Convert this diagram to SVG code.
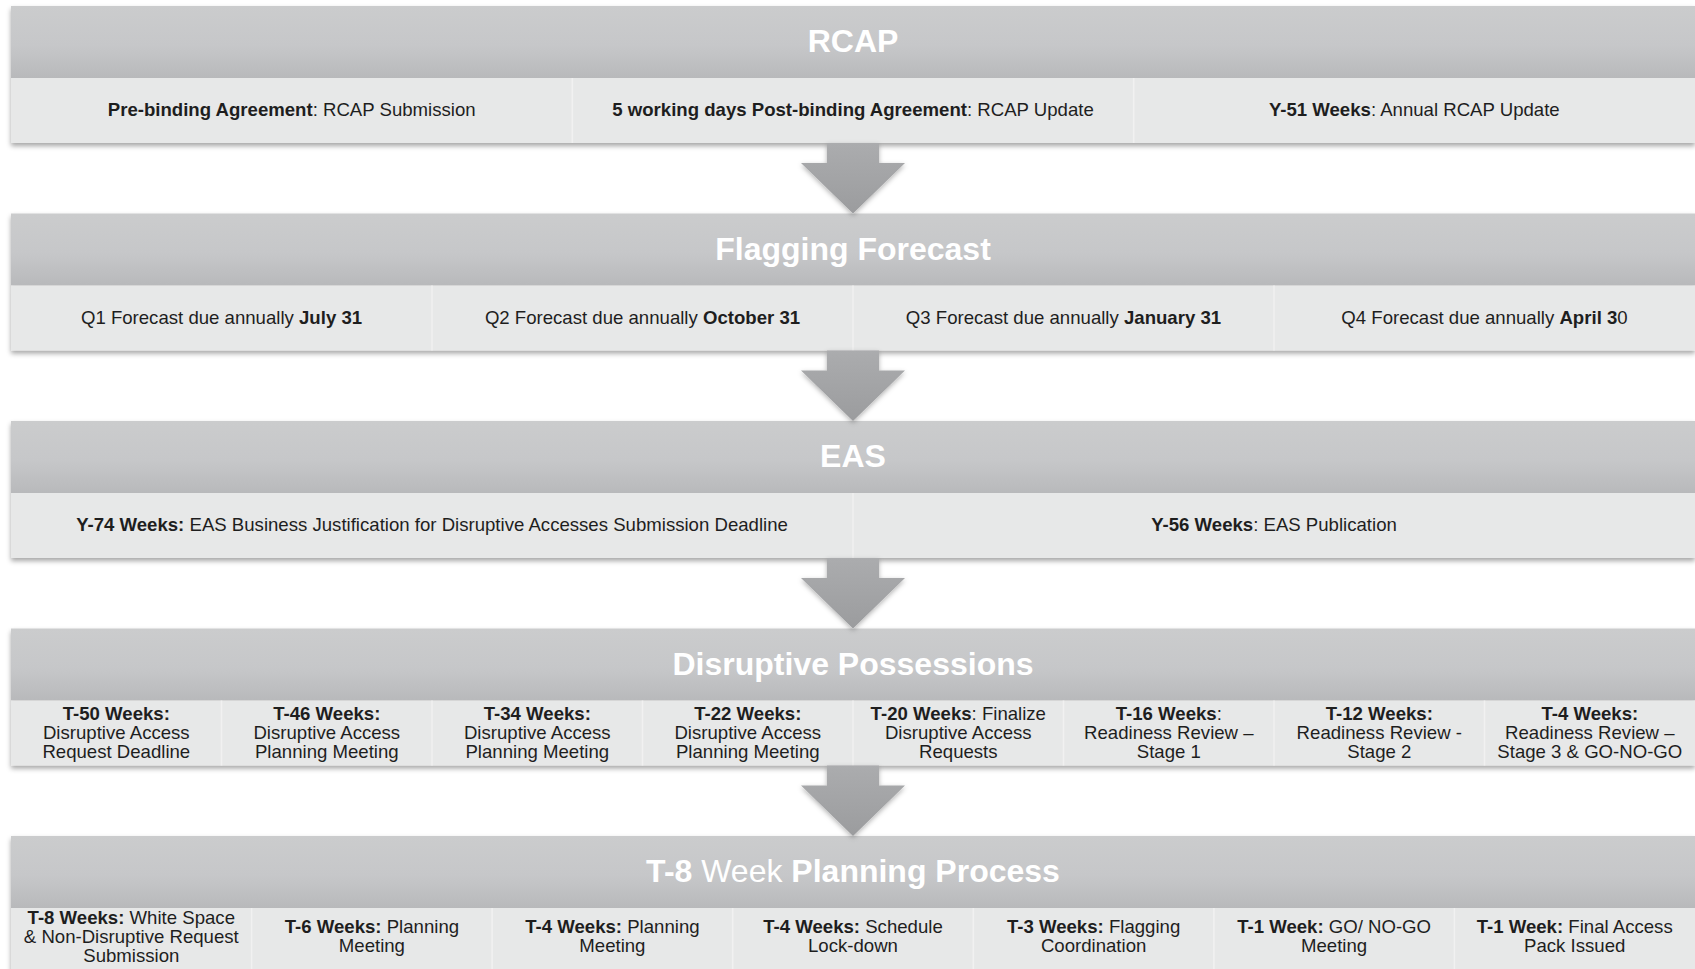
<svg xmlns="http://www.w3.org/2000/svg" width="1695" height="969" viewBox="0 0 1695 969">
<defs>
<linearGradient id="hdr" x1="0" y1="0" x2="0" y2="1">
<stop offset="0" stop-color="#cbcccd"/>
<stop offset="0.55" stop-color="#c6c7c9"/>
<stop offset="1" stop-color="#b8b9bb"/>
</linearGradient>
<linearGradient id="arr" x1="0" y1="0" x2="0" y2="1">
<stop offset="0" stop-color="#abacae"/>
<stop offset="1" stop-color="#9b9c9e"/>
</linearGradient>
<filter id="sh" x="-2%" y="-10%" width="104%" height="130%">
<feDropShadow dx="0" dy="3" stdDeviation="2.5" flood-color="#000" flood-opacity="0.35"/>
</filter>
<filter id="ash" x="-20%" y="-20%" width="140%" height="140%">
<feDropShadow dx="0" dy="2" stdDeviation="2.5" flood-color="#000" flood-opacity="0.3"/>
</filter>
</defs>
<style>
.hdr{fill:url(#hdr);}
.body{fill:#e7e8e8;}
.div{stroke:#f1f1f1;stroke-width:1.5;}
.ttl{font-family:"Liberation Sans",Arial,sans-serif;font-size:32px;font-weight:bold;fill:#ffffff;text-anchor:middle;}
.t{font-family:"Liberation Sans",Arial,sans-serif;font-size:18.6px;fill:#1e1e1e;text-anchor:middle;}
.b{font-weight:bold;}
.n{font-weight:normal;}
.arrow{fill:url(#arr);filter:url(#ash);}
</style>

<g id="rcap">
<g filter="url(#sh)">
<rect class="hdr" x="11" y="6" width="1684" height="72"/>
<rect class="body" x="11" y="78" width="1684" height="65"/>
</g>
<line class="div" x1="572.3" y1="78" x2="572.3" y2="143"/>
<line class="div" x1="1133.7" y1="78" x2="1133.7" y2="143"/>
<text class="ttl" x="853" y="52">RCAP</text>
<text class="t" x="291.7" y="116"><tspan class="b">Pre-binding Agreement</tspan>: RCAP Submission</text>
<text class="t" x="853" y="116"><tspan class="b">5 working days Post-binding Agreement</tspan>: RCAP Update</text>
<text class="t" x="1414.3" y="116"><tspan class="b">Y-51 Weeks</tspan>: Annual RCAP Update</text>
</g>

<g id="flagging">
<g filter="url(#sh)">
<rect class="hdr" x="11" y="213.5" width="1684" height="72"/>
<rect class="body" x="11" y="285.5" width="1684" height="65"/>
</g>
<line class="div" x1="432" y1="285.5" x2="432" y2="350.5"/>
<line class="div" x1="853" y1="285.5" x2="853" y2="350.5"/>
<line class="div" x1="1274" y1="285.5" x2="1274" y2="350.5"/>
<text class="ttl" x="853" y="259.5">Flagging Forecast</text>
<text class="t" x="221.5" y="323.5">Q1 Forecast due annually <tspan class="b">July 31</tspan></text>
<text class="t" x="642.5" y="323.5">Q2 Forecast due annually <tspan class="b">October 31</tspan></text>
<text class="t" x="1063.5" y="323.5">Q3 Forecast due annually <tspan class="b">January 31</tspan></text>
<text class="t" x="1484.5" y="323.5">Q4 Forecast due annually <tspan class="b">April 3</tspan>0</text>
</g>

<g id="eas">
<g filter="url(#sh)">
<rect class="hdr" x="11" y="421" width="1684" height="72"/>
<rect class="body" x="11" y="493" width="1684" height="65"/>
</g>
<line class="div" x1="853" y1="493" x2="853" y2="558"/>
<text class="ttl" x="853" y="467">EAS</text>
<text class="t" x="432" y="531"><tspan class="b">Y-74 Weeks:</tspan> EAS Business Justification for Disruptive Accesses Submission Deadline</text>
<text class="t" x="1274" y="531"><tspan class="b">Y-56 Weeks</tspan>: EAS Publication</text>
</g>

<g id="disruptive">
<g filter="url(#sh)">
<rect class="hdr" x="11" y="628.5" width="1684" height="72"/>
<rect class="body" x="11" y="700.5" width="1684" height="65"/>
</g>
<line class="div" x1="221.5" y1="700.5" x2="221.5" y2="765.5"/>
<line class="div" x1="432" y1="700.5" x2="432" y2="765.5"/>
<line class="div" x1="642.5" y1="700.5" x2="642.5" y2="765.5"/>
<line class="div" x1="853" y1="700.5" x2="853" y2="765.5"/>
<line class="div" x1="1063.5" y1="700.5" x2="1063.5" y2="765.5"/>
<line class="div" x1="1274" y1="700.5" x2="1274" y2="765.5"/>
<line class="div" x1="1484.5" y1="700.5" x2="1484.5" y2="765.5"/>
<text class="ttl" x="853" y="674.5">Disruptive Possessions</text>
<text class="t" x="116.3" y="719.5"><tspan class="b">T-50 Weeks:</tspan><tspan x="116.3" dy="19">Disruptive Access</tspan><tspan x="116.3" dy="19">Request Deadline</tspan></text>
<text class="t" x="326.8" y="719.5"><tspan class="b">T-46 Weeks:</tspan><tspan x="326.8" dy="19">Disruptive Access</tspan><tspan x="326.8" dy="19">Planning Meeting</tspan></text>
<text class="t" x="537.3" y="719.5"><tspan class="b">T-34 Weeks:</tspan><tspan x="537.3" dy="19">Disruptive Access</tspan><tspan x="537.3" dy="19">Planning Meeting</tspan></text>
<text class="t" x="747.8" y="719.5"><tspan class="b">T-22 Weeks:</tspan><tspan x="747.8" dy="19">Disruptive Access</tspan><tspan x="747.8" dy="19">Planning Meeting</tspan></text>
<text class="t" x="958.3" y="719.5"><tspan class="b">T-20 Weeks</tspan>: Finalize<tspan x="958.3" dy="19">Disruptive Access</tspan><tspan x="958.3" dy="19">Requests</tspan></text>
<text class="t" x="1168.8" y="719.5"><tspan class="b">T-16 Weeks</tspan>:<tspan x="1168.8" dy="19">Readiness Review –</tspan><tspan x="1168.8" dy="19">Stage 1</tspan></text>
<text class="t" x="1379.3" y="719.5"><tspan class="b">T-12 Weeks:</tspan><tspan x="1379.3" dy="19">Readiness Review -</tspan><tspan x="1379.3" dy="19">Stage 2</tspan></text>
<text class="t" x="1589.8" y="719.5"><tspan class="b">T-4 Weeks:</tspan><tspan x="1589.8" dy="19">Readiness Review –</tspan><tspan x="1589.8" dy="19">Stage 3 &amp; GO-NO-GO</tspan></text>
</g>

<g id="planning">
<g filter="url(#sh)">
<rect class="hdr" x="11" y="836" width="1684" height="72"/>
<rect class="body" x="11" y="908" width="1684" height="65"/>
</g>
<line class="div" x1="251.6" y1="908" x2="251.6" y2="969"/>
<line class="div" x1="492.1" y1="908" x2="492.1" y2="969"/>
<line class="div" x1="732.7" y1="908" x2="732.7" y2="969"/>
<line class="div" x1="973.3" y1="908" x2="973.3" y2="969"/>
<line class="div" x1="1213.9" y1="908" x2="1213.9" y2="969"/>
<line class="div" x1="1454.4" y1="908" x2="1454.4" y2="969"/>
<text class="ttl" x="853" y="882">T-8<tspan class="n"> Week </tspan>Planning Process</text>
<text class="t" x="131.3" y="923.5"><tspan class="b">T-8 Weeks:</tspan> White Space<tspan x="131.3" dy="19">&amp; Non-Disruptive Request</tspan><tspan x="131.3" dy="19">Submission</tspan></text>
<text class="t" x="371.9" y="933"><tspan class="b">T-6 Weeks:</tspan> Planning<tspan x="371.9" dy="19">Meeting</tspan></text>
<text class="t" x="612.4" y="933"><tspan class="b">T-4 Weeks:</tspan> Planning<tspan x="612.4" dy="19">Meeting</tspan></text>
<text class="t" x="853" y="933"><tspan class="b">T-4 Weeks:</tspan> Schedule<tspan x="853" dy="19">Lock-down</tspan></text>
<text class="t" x="1093.6" y="933"><tspan class="b">T-3 Weeks:</tspan> Flagging<tspan x="1093.6" dy="19">Coordination</tspan></text>
<text class="t" x="1334.1" y="933"><tspan class="b">T-1 Week:</tspan> GO/ NO-GO<tspan x="1334.1" dy="19">Meeting</tspan></text>
<text class="t" x="1574.7" y="933"><tspan class="b">T-1 Week:</tspan> Final Access<tspan x="1574.7" dy="19">Pack Issued</tspan></text>
</g>

<g id="connectors">
<path class="arrow" d="M827,143 H879 V163 H905 L853,213.5 L801,163 H827 Z"/>
<path class="arrow" d="M827,350.5 H879 V370.5 H905 L853,421 L801,370.5 H827 Z"/>
<path class="arrow" d="M827,558 H879 V578 H905 L853,628.5 L801,578 H827 Z"/>
<path class="arrow" d="M827,765.5 H879 V785.5 H905 L853,836 L801,785.5 H827 Z"/>
</g>
</svg>
